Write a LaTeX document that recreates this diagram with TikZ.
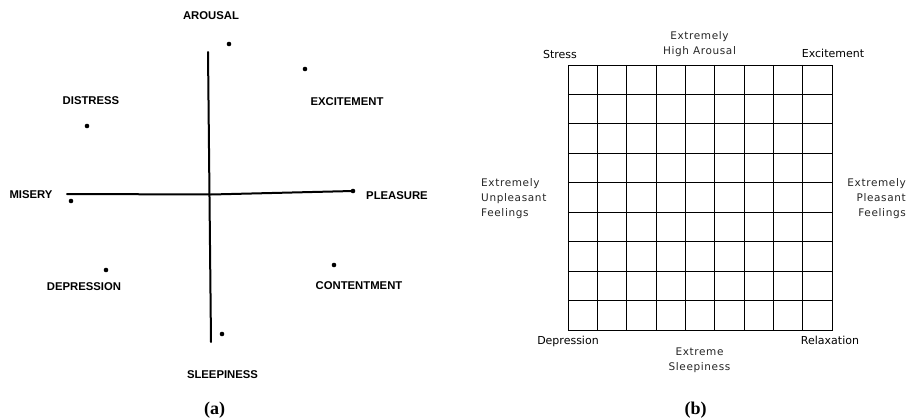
\documentclass[tikz,border=0pt]{standalone}
\usepackage{fontspec}
\setmainfont{Liberation Serif}
\newfontfamily\capsfont{Liberation Sans}
\newfontfamily\gridfont{DejaVu Sans}
\newfontfamily\gridlight[LetterSpace=6]{DejaVu Sans}
\begin{document}
\begin{tikzpicture}[x=1pt,y=-1pt,
  axis/.style={line width=2pt, line cap=round},
  dot/.style={circle, fill=black, inner sep=0pt, minimum size=4.6pt},
  caps/.style={inner sep=0pt, anchor=base, font=\capsfont\bfseries\fontsize{11.3}{13}\selectfont},
  glab/.style={inner sep=0pt, anchor=base, font=\gridfont\fontsize{11}{13}\selectfont},
  glight/.style={inner sep=0pt, anchor=base, text=black!85, font=\gridlight\fontsize{10.5}{15}\selectfont},
  figcap/.style={inner sep=0pt, anchor=base, font=\bfseries\fontsize{18}{20}\selectfont},
  gline/.style={line width=0.9pt}]
\useasboundingbox (0,0) rectangle (908,420);

% ---------- panel (a) ----------
\coordinate (vtop) at (208,52);
\coordinate (vbot) at (211,342);
\coordinate (hl) at (67,194);
\coordinate (hmid) at (211,194.5);
\coordinate (hr) at (353,191);
\draw[axis] (vtop) -- (vbot);
\draw[axis] (hl) -- (hmid) -- (hr);

\node[dot] (dArousal) at (229,44) {};
\node[dot] (dExcite) at (305,69) {};
\node[dot] (dDistress) at (87,126) {};
\node[dot] (dMisery) at (71,201) {};
\node[dot] (dPleasure) at (353,191) {};
\node[dot] (dDepress) at (106,270) {};
\node[dot] (dContent) at (334,265) {};
\node[dot] (dSleep) at (222,334) {};

\node[caps] (lArousal) at (211,19.3) {AROUSAL};
\node[caps] (lDistress) at (91,104.3) {DISTRESS};
\node[caps] (lExcite) at (347,105) {EXCITEMENT};
\node[caps] (lMisery) at (31,198) {MISERY};
\node[caps] (lPleasure) at (397,199) {PLEASURE};
\node[caps] (lDepress) at (84,290) {DEPRESSION};
\node[caps] (lContent) at (359,289) {CONTENTMENT};
\node[caps] (lSleep) at (222.5,378.3) {SLEEPINESS};
\node[figcap] (capA) at (214.7,414) {(a)};

% ---------- panel (b) ----------
\node[draw, gline, inner sep=0pt, minimum width=264.4pt, minimum height=265pt] (grid) at (700.5,197.8) {};
\foreach \i in {1,...,8} {
  \draw[gline] ([xshift=\i*29.378pt]grid.north west) -- ([xshift=\i*29.378pt]grid.south west);
  \draw[gline] ([yshift=-\i*29.444pt]grid.north west) -- ([yshift=-\i*29.444pt]grid.north east);
}

\node[glab] (lStress) at (560,58.3) {Stress};
\node[glab] (lExcitement) at (833,58) {Excitement};
\node[glab] (lDepression) at (568,344.3) {Depression};
\node[glab] (lRelax) at (830,344.3) {Relaxation};
\node[glight, align=center] (lHigh) at (699.5,54.3) {Extremely\\High Arousal};
\node[glight, align=center] (lSleepy) at (699.5,370.7) {Extreme\\Sleepiness};
\node[glight, align=left, anchor=base west] (lUnpl) at (481,216) {Extremely\\Unpleasant\\Feelings};
\node[glight, align=right, anchor=base east] (lPl) at (906,216) {Extremely\\Pleasant\\Feelings};
\node[figcap] (capB) at (695.5,414) {(b)};
\end{tikzpicture}
\end{document}
